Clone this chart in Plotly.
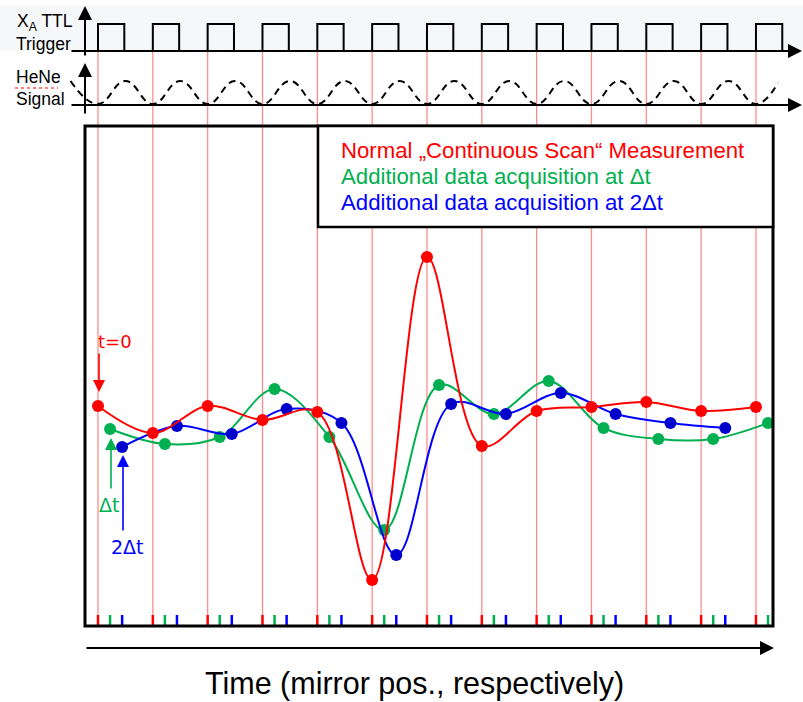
import plotly.graph_objects as go

W, H = 803, 702

# ---------------- data ----------------
sample_idx = list(range(13))                     # trigger / sampling positions
red_vals = [0.4, -2.3, 0.4, -1.0, -0.2, -17.0, 15.3, -3.6, -0.1, 0.3, 0.8, -0.1, 0.3]
green_vals = [-1.9, -3.4, -2.7, 2.1, -2.7, -12.0, 2.5, -0.4, 2.9, -1.8, -2.9, -2.9, -1.3]
blue_vals = [-3.7, -1.6, -2.4, 0.1, -1.3, -14.5, 0.6, -0.4, 1.7, -0.4, -1.3, -1.8]
dt = 0.22                                        # delay Δt in sampling intervals

hene_pos = [-0.5, 0, 0.5, 1, 1.5, 2, 2.5, 3, 3.5, 4, 4.5, 5, 5.5, 6, 6.5, 7, 7.5,
            8, 8.5, 9, 9.5, 10, 10.5, 11, 11.5, 12, 12.4]
hene_vals = [1, 0, 1, 0, 1, 0, 1, 0, 1, 0, 1, 0, 1, 0, 1, 0, 1,
             0, 1, 0, 1, 0, 1, 0, 1, 0, 0.92]

series_names = ["Normal „Continuous Scan“ Measurement",
                "Additional data acquisition at Δt",
                "Additional data acquisition at 2Δt"]
x_title = "Time (mirror pos., respectively)"

# ---------------- styles ----------------
RED, GREEN, BLUE, BLUE_DOT = "#FF0000", "#00B050", "#0000FF", "#0000CD"
SANS = "Liberation Sans, Arial, sans-serif"
DV = "DejaVu Sans, sans-serif"


def xp(px):
    return px / W


def yp(py):
    return 1 - py / H


def yv(py):                     # pixel row -> y-axis value (axis: 0 at row 410, 10 px / unit)
    return (410 - py) / 10


fig = go.Figure()

# light band behind the TTL trace
fig.add_shape(type="rect", xref="paper", yref="paper", x0=0, x1=1, y0=yp(51), y1=yp(5),
              fillcolor="#F6F7F9", line=dict(width=0), layer="below")

# red trigger lines
for i in sample_idx:
    fig.add_shape(type="line", xref="x", yref="paper", x0=i, x1=i, y0=yp(51), y1=yp(626),
                  line=dict(color="rgba(255,0,0,0.45)", width=1.3), layer="below")

# TTL pulses
pulse_w = 0.48
ttl_x, ttl_y = [], []
lo, hi = yv(51), yv(24)
for i in sample_idx:
    ttl_x += [i, i, i + pulse_w, i + pulse_w, None]
    ttl_y += [lo, hi, hi, lo, None]
fig.add_trace(go.Scatter(x=ttl_x, y=ttl_y, mode="lines", line=dict(color="black", width=2),
                         showlegend=False, hoverinfo="skip"))

# HeNe signal (dashed)
hene_base, hene_amp = yv(104), yv(81) - yv(104)
fig.add_trace(go.Scatter(x=hene_pos, y=[hene_base + hene_amp * v for v in hene_vals], mode="lines",
                         line=dict(color="black", width=2, dash="7px,5px", shape="spline", smoothing=1.3),
                         showlegend=False, hoverinfo="skip"))

# measurement series
green_x = [i + dt for i in sample_idx]
blue_x = [i + 2 * dt for i in sample_idx[:len(blue_vals)]]
for name, xs, vals, lc, mc in [
    (series_names[1], green_x, green_vals, GREEN, GREEN),
    (series_names[2], blue_x, blue_vals, BLUE, BLUE_DOT),
    (series_names[0], sample_idx, red_vals, RED, RED),
]:
    fig.add_trace(go.Scatter(x=xs, y=vals, mode="lines+markers", name=name,
                             line=dict(color=lc, width=2, shape="spline", smoothing=1.0),
                             marker=dict(color=mc, size=12), showlegend=False))

# sample ticks on the bottom edge
for xs, c in [(sample_idx, RED), (green_x, GREEN), (blue_x, BLUE)]:
    for x in xs:
        fig.add_shape(type="line", xref="x", yref="paper", x0=x, x1=x, y0=yp(626), y1=yp(615),
                      line=dict(color=c, width=2.5), layer="above")

# main frame and legend box
fig.add_shape(type="rect", xref="paper", yref="paper", x0=xp(85), x1=xp(773), y0=yp(626), y1=yp(126),
              line=dict(color="black", width=3), layer="above")
fig.add_shape(type="rect", xref="paper", yref="paper", x0=xp(318), x1=xp(773), y0=yp(227), y1=yp(126),
              fillcolor="white", line=dict(color="black", width=2.5), layer="above")
for k, (name, c) in enumerate(zip(series_names, [RED, GREEN, BLUE])):
    fig.add_annotation(xref="paper", yref="paper", x=xp(339), y=yp(150 + 26.5 * k), text=name,
                       showarrow=False, xanchor="left", yanchor="middle",
                       font=dict(family=SANS, size=22.2, color=c))


def arrow(tip, tail, color="black", width=2, size=1.4):
    fig.add_annotation(xref="paper", yref="paper", x=xp(tip[0]), y=yp(tip[1]), text="",
                       showarrow=True, axref="pixel", ayref="pixel",
                       ax=tail[0] - tip[0], ay=tail[1] - tip[1],
                       arrowhead=2, arrowsize=size, arrowwidth=width, arrowcolor=color)


# axis arrows
arrow((85, 6), (85, 57))
arrow((803, 51), (70, 51))
arrow((85, 63), (85, 115))
arrow((803, 105), (70, 105))
arrow((774, 648), (85, 648))

# marker arrows
arrow((99, 392), (99, 352), RED, 1.6, 1.5)
arrow((111, 438), (111, 490), GREEN, 1.6, 1.5)
arrow((123, 455), (123, 532), BLUE, 1.6, 1.5)


def label(px, py, text, size, color="black", family=SANS, xanchor="left"):
    fig.add_annotation(xref="paper", yref="paper", x=xp(px), y=yp(py), text=text, showarrow=False,
                       xanchor=xanchor, yanchor="middle", font=dict(family=family, size=size, color=color))


label(15, 23, "X<sub>A</sub> TTL", 17.5)
label(14, 44, "Trigger", 17.5)
label(14, 77, "HeNe", 17.5)
label(14, 99, "Signal", 17.5)
fig.add_shape(type="line", xref="paper", yref="paper", x0=xp(15), x1=xp(58), y0=yp(88), y1=yp(88),
              line=dict(color=RED, width=1, dash="dot"))
label(115, 341, "t=0", 18, RED, DV, "center")
label(109, 505, "Δt", 19, GREEN, DV, "center")
label(127, 547, "2Δt", 19, BLUE, DV, "center")
label(415, 683, x_title, 30.5, "black", SANS, "center")

fig.update_layout(
    width=W, height=H, margin=dict(l=0, r=0, t=0, b=0),
    paper_bgcolor="white", plot_bgcolor="white",
    xaxis=dict(visible=False, range=[-98 / 54.83, (W - 98) / 54.83], fixedrange=True),
    yaxis=dict(visible=False, range=[yv(H), yv(0)], fixedrange=True),
    showlegend=False,
)

fig.write_html("out.html", config={"displayModeBar": False},
               post_script="document.body.style.margin='0';")
